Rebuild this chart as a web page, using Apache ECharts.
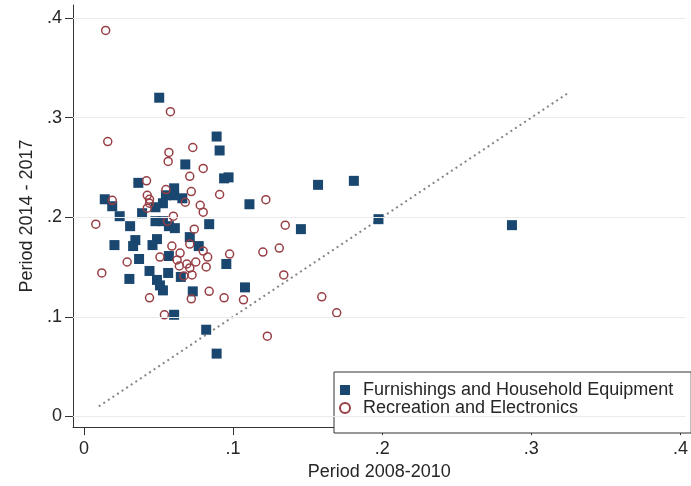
<!DOCTYPE html>
<html>
<head>
<meta charset="utf-8">
<script src="https://cdn.jsdelivr.net/npm/echarts@6/dist/echarts.min.js"></script>
<style>
  html, body { margin: 0; padding: 0; background: #fff; }
  #chart { width: 691px; height: 486px; }
</style>
</head>
<body>
<div id="chart"></div>
<script>
// Growth shares by product group: [period 2008-2010, period 2014-2017]
const furnishings = [
  [0.0505, 0.320], [0.089, 0.281], [0.091, 0.267], [0.068, 0.253], [0.094, 0.239],
  [0.097, 0.240], [0.0365, 0.2345], [0.0605, 0.229], [0.055, 0.222], [0.0605, 0.222],
  [0.066, 0.219], [0.053, 0.214], [0.048, 0.210], [0.014, 0.218], [0.019, 0.211],
  [0.024, 0.201], [0.039, 0.204], [0.031, 0.191], [0.048, 0.196], [0.053, 0.196],
  [0.057, 0.191], [0.061, 0.189], [0.084, 0.193], [0.0205, 0.172], [0.0345, 0.177],
  [0.033, 0.171], [0.049, 0.178], [0.046, 0.172], [0.071, 0.180], [0.077, 0.171],
  [0.037, 0.158], [0.057, 0.161], [0.0955, 0.153], [0.044, 0.146], [0.0565, 0.144],
  [0.0305, 0.138], [0.049, 0.137], [0.051, 0.1315], [0.053, 0.1265], [0.065, 0.140],
  [0.073, 0.1255], [0.108, 0.1295], [0.0605, 0.102], [0.082, 0.087], [0.089, 0.063],
  [0.111, 0.213], [0.157, 0.2325], [0.181, 0.2365], [0.1455, 0.188], [0.1975, 0.198],
  [0.287, 0.192]
];

const recreation = [
  [0.0146, 0.3876], [0.058, 0.306], [0.016, 0.276], [0.057, 0.265], [0.0565, 0.256],
  [0.073, 0.270], [0.080, 0.249], [0.071, 0.241], [0.042, 0.2365], [0.019, 0.217],
  [0.0425, 0.222], [0.044, 0.218], [0.044, 0.214], [0.0425, 0.209], [0.055, 0.2277],
  [0.072, 0.2257], [0.091, 0.2228], [0.068, 0.215], [0.078, 0.212], [0.080, 0.205],
  [0.060, 0.201], [0.056, 0.196], [0.008, 0.193], [0.074, 0.188], [0.059, 0.171],
  [0.0645, 0.164], [0.071, 0.173], [0.080, 0.166], [0.083, 0.160], [0.0977, 0.163],
  [0.051, 0.160], [0.0625, 0.157], [0.069, 0.153], [0.075, 0.155], [0.082, 0.150],
  [0.071, 0.149], [0.064, 0.151], [0.029, 0.155], [0.120, 0.165], [0.131, 0.169],
  [0.135, 0.192], [0.134, 0.142], [0.012, 0.144], [0.067, 0.141], [0.0725, 0.142],
  [0.084, 0.1256], [0.072, 0.118], [0.044, 0.119], [0.094, 0.119], [0.107, 0.117],
  [0.054, 0.102], [0.123, 0.0805], [0.1595, 0.120], [0.1695, 0.104], [0.122, 0.2176]
];

// 45-degree reference line, drawn over this span of the axes
const diagonalSpan = [0.01, 0.325];

const xTicks = [0, 0.1, 0.2, 0.3, 0.4];
const yTicks = [0, 0.1, 0.2, 0.3, 0.4];

const seriesNames = ['Furnishings and Household Equipment', 'Recreation and Electronics'];
const xTitle = 'Period 2008-2010';
const yTitle = 'Period 2014 - 2017';

const FONT = '"Liberation Sans", Arial, sans-serif';
const INK = '#262626';
const NAVY = '#1a476f';
const MAROON = '#983f45';

const tickText = v => (v === 0 ? '0' : String(v).replace(/^0/, ''));

const chart = echarts.init(document.getElementById('chart'), null, { renderer: 'canvas' });

chart.setOption({
  backgroundColor: '#ffffff',
  animation: false,
  textStyle: { fontFamily: FONT },
  grid: { left: 73, right: 0, top: 5, bottom: 49, containLabel: false },
  xAxis: {
    type: 'value',
    min: -0.0073,
    max: 0.4033,
    name: xTitle,
    nameLocation: 'middle',
    nameGap: 29,
    nameTextStyle: { fontFamily: FONT, fontSize: 18, color: INK },
    axisLine: { show: true, onZero: false, lineStyle: { color: '#333', width: 1 } },
    axisTick: { show: true, length: 8, customValues: xTicks, lineStyle: { color: '#333' } },
    axisLabel: {
      customValues: xTicks, formatter: tickText, margin: 13,
      fontFamily: FONT, fontSize: 18, color: INK
    },
    splitLine: { show: false }
  },
  yAxis: {
    type: 'value',
    min: -0.0108,
    max: 0.4131,
    name: yTitle,
    nameLocation: 'middle',
    nameRotate: 90,
    nameGap: 35,
    nameTextStyle: { fontFamily: FONT, fontSize: 18, color: INK },
    axisLine: { show: true, onZero: false, lineStyle: { color: '#333', width: 1 } },
    axisTick: { show: true, length: 8, customValues: yTicks, lineStyle: { color: '#333' } },
    axisLabel: {
      customValues: yTicks, formatter: tickText, margin: 11,
      fontFamily: FONT, fontSize: 18, color: INK
    },
    splitLine: { show: false }
  },
  legend: {
    orient: 'vertical',
    left: 334,
    top: 372,
    padding: [9, 18, 16, 5],
    itemGap: 0,
    itemWidth: 10,
    itemHeight: 10,
    borderColor: '#333',
    borderWidth: 1,
    backgroundColor: '#fff',
    textStyle: { fontFamily: FONT, fontSize: 18, color: INK, lineHeight: 17, padding: [0, 0, 0, 8] },
    data: [
      { name: seriesNames[0], icon: 'rect' },
      { name: seriesNames[1], icon: 'circle' }
    ]
  },
  series: [
    {
      // horizontal grid lines at the y ticks
      type: 'line',
      data: [],
      silent: true,
      markLine: {
        silent: true,
        symbol: 'none',
        label: { show: false },
        lineStyle: { color: '#ebebeb', width: 1, type: 'solid' },
        data: yTicks.map(v => ({ yAxis: v }))
      },
      z: 0
    },
    {
      type: 'line',
      data: diagonalSpan.map(v => [v, v]),
      showSymbol: false,
      silent: true,
      lineStyle: { color: '#858585', width: 2, type: [2, 3.5] },
      z: 1
    },
    {
      name: seriesNames[0],
      type: 'scatter',
      symbol: 'rect',
      symbolSize: 10,
      data: furnishings,
      itemStyle: { color: NAVY, opacity: 1 },
      z: 2
    },
    {
      name: seriesNames[1],
      type: 'scatter',
      symbol: 'circle',
      symbolSize: 8,
      data: recreation,
      itemStyle: { color: 'rgba(255,255,255,0)', borderColor: MAROON, borderWidth: 1.5, opacity: 1 },
      z: 3
    }
  ]
});
</script>
</body>
</html>
